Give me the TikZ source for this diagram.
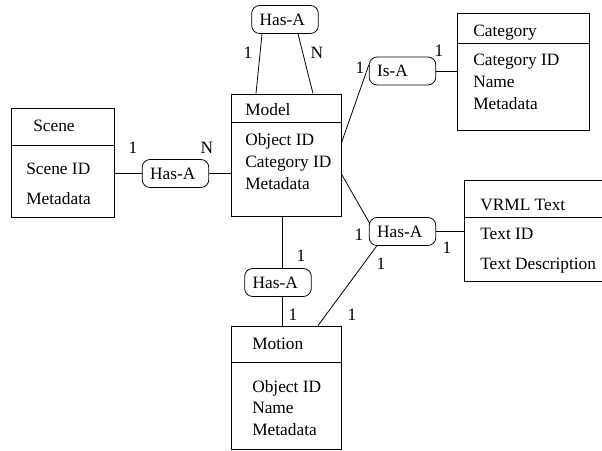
\documentclass[tikz,border=0pt]{standalone}
\usepackage{fontspec}
\setmainfont{Liberation Serif}
\usetikzlibrary{calc}
\tikzset{
  entity/.style={draw, line width=0.6pt, inner sep=0pt},
  relation/.style={draw, line width=0.6pt, rounded corners=6pt, text width=38pt, align=left, inner xsep=6pt, inner ysep=0pt, minimum height=21pt},
  attr/.style={anchor=west, inner sep=0pt, text height=9pt, text depth=0pt},
  card/.style={inner sep=0pt, text height=9pt, text depth=0pt},
  link/.style={line width=0.6pt},
}
\begin{document}
\begin{tikzpicture}[x=0.75pt,y=-0.75pt,font=\fontsize{13}{15}\selectfont]
\clip (0,0) rectangle (602,450);
%\draw[step=50,gray,very thin] (0,0) grid (600,450);

% entities
\node[entity, minimum width=77.25pt, minimum height=81.75pt] (scene) at (62.5,162.5) {};
\draw[link] (scene.west |- 0,145) -- (scene.east |- 0,145);
\node[attr] (sceneT) at (33,125) {Scene};
\node[attr] (sceneA) at (26,168) {Scene ID};
\node[attr] (sceneB) at (26,198) {Metadata};

\node[entity, minimum width=82.5pt, minimum height=91.5pt] (model) at (286,155) {};
\draw[link] (model.west |- 0,122) -- (model.east |- 0,122);
\node[attr] (modelT) at (245,109) {Model};
\node[attr] (modelA) at (245,139) {Object ID};
\node[attr] (modelB) at (245,161) {Category ID};
\node[attr] (modelC) at (245,183) {Metadata};

\node[entity, minimum width=99pt, minimum height=87.75pt] (cat) at (523,71.5) {};
\draw[link] (cat.west |- 0,43) -- (cat.east |- 0,43);
\node[attr] (catT) at (473,30) {Category};
\node[attr] (catA) at (473,59) {Category ID};
\node[attr] (catB) at (473,81) {Name};
\node[attr] (catC) at (473,103) {Metadata};

\node[entity, minimum width=109.5pt, minimum height=75.75pt] (vrml) at (537,230.5) {};
\draw[link] (vrml.west |- 0,217) -- (vrml.east |- 0,217);
\node[attr] (vrmlT) at (480,204) {VRML Text};
\node[attr] (vrmlA) at (480,233) {Text ID};
\node[attr] (vrmlB) at (480,263) {Text Description};

\node[entity, minimum width=82.5pt, minimum height=92.25pt] (motion) at (286,387.5) {};
\draw[link] (motion.west |- 0,362) -- (motion.east |- 0,362);
\node[attr] (motionT) at (252,343) {Motion};
\node[attr] (motionA) at (252,386) {Object ID};
\node[attr] (motionB) at (252,407) {Name};
\node[attr] (motionC) at (252,429) {Metadata};

% relations
\node[relation] (hasSelf) at (285,19.5) {Has-A};
\node[relation] (hasScene) at (175.5,173.5) {Has-A};
\node[relation] (isa) at (402.5,71) {Is-A};
\node[relation] (hasText) at (402.5,231.5) {Has-A};
\node[relation] (hasMotion) at (278,282.5) {Has-A};

% connectors
\draw[link] ($(hasSelf.south)+(-23,0)$) -- ($(model.north)+(-30,0)$);
\draw[link] ($(hasSelf.south)+(13,0)$) -- ($(model.north)+(27,0)$);
\draw[link] (hasScene.west) -- (hasScene.west -| scene.east);
\draw[link] (hasScene.east) -- (hasScene.east -| model.west);
\draw[link] ($(model.east)+(0,-12)$) -- ($(isa.west)+(0,-6)$);
\draw[link] (isa.east) -- (isa.east -| cat.west);
\draw[link] ($(model.east)+(0,19)$) -- ($(hasText.west)+(1,-8)$);
\draw[link] (hasText.east) -- (hasText.east -| vrml.west);
\draw[link] ($(model.south)+(-4,0)$) coordinate (mdown) -- (mdown |- hasMotion.north);
\draw[link] (hasMotion.south -| mdown) -- (mdown |- motion.north);
\draw[link] ($(motion.north)+(32,0)$) -- ($(hasText.south west)+(8,0)$);

% cardinalities
\node[card] (c1) at (248,52) {1};
\node[card] (c2) at (317,52) {N};
\node[card] (c3) at (133,147) {1};
\node[card] (c4) at (207,147) {N};
\node[card] (c5) at (360,67) {1};
\node[card] (c6) at (439,50) {1};
\node[card] (c7) at (359,234) {1};
\node[card] (c8) at (447,247) {1};
\node[card] (c9) at (381,263) {1};
\node[card] (c10) at (301,255) {1};
\node[card] (c11) at (293,314) {1};
\node[card] (c12) at (352,314) {1};
\end{tikzpicture}
\end{document}
